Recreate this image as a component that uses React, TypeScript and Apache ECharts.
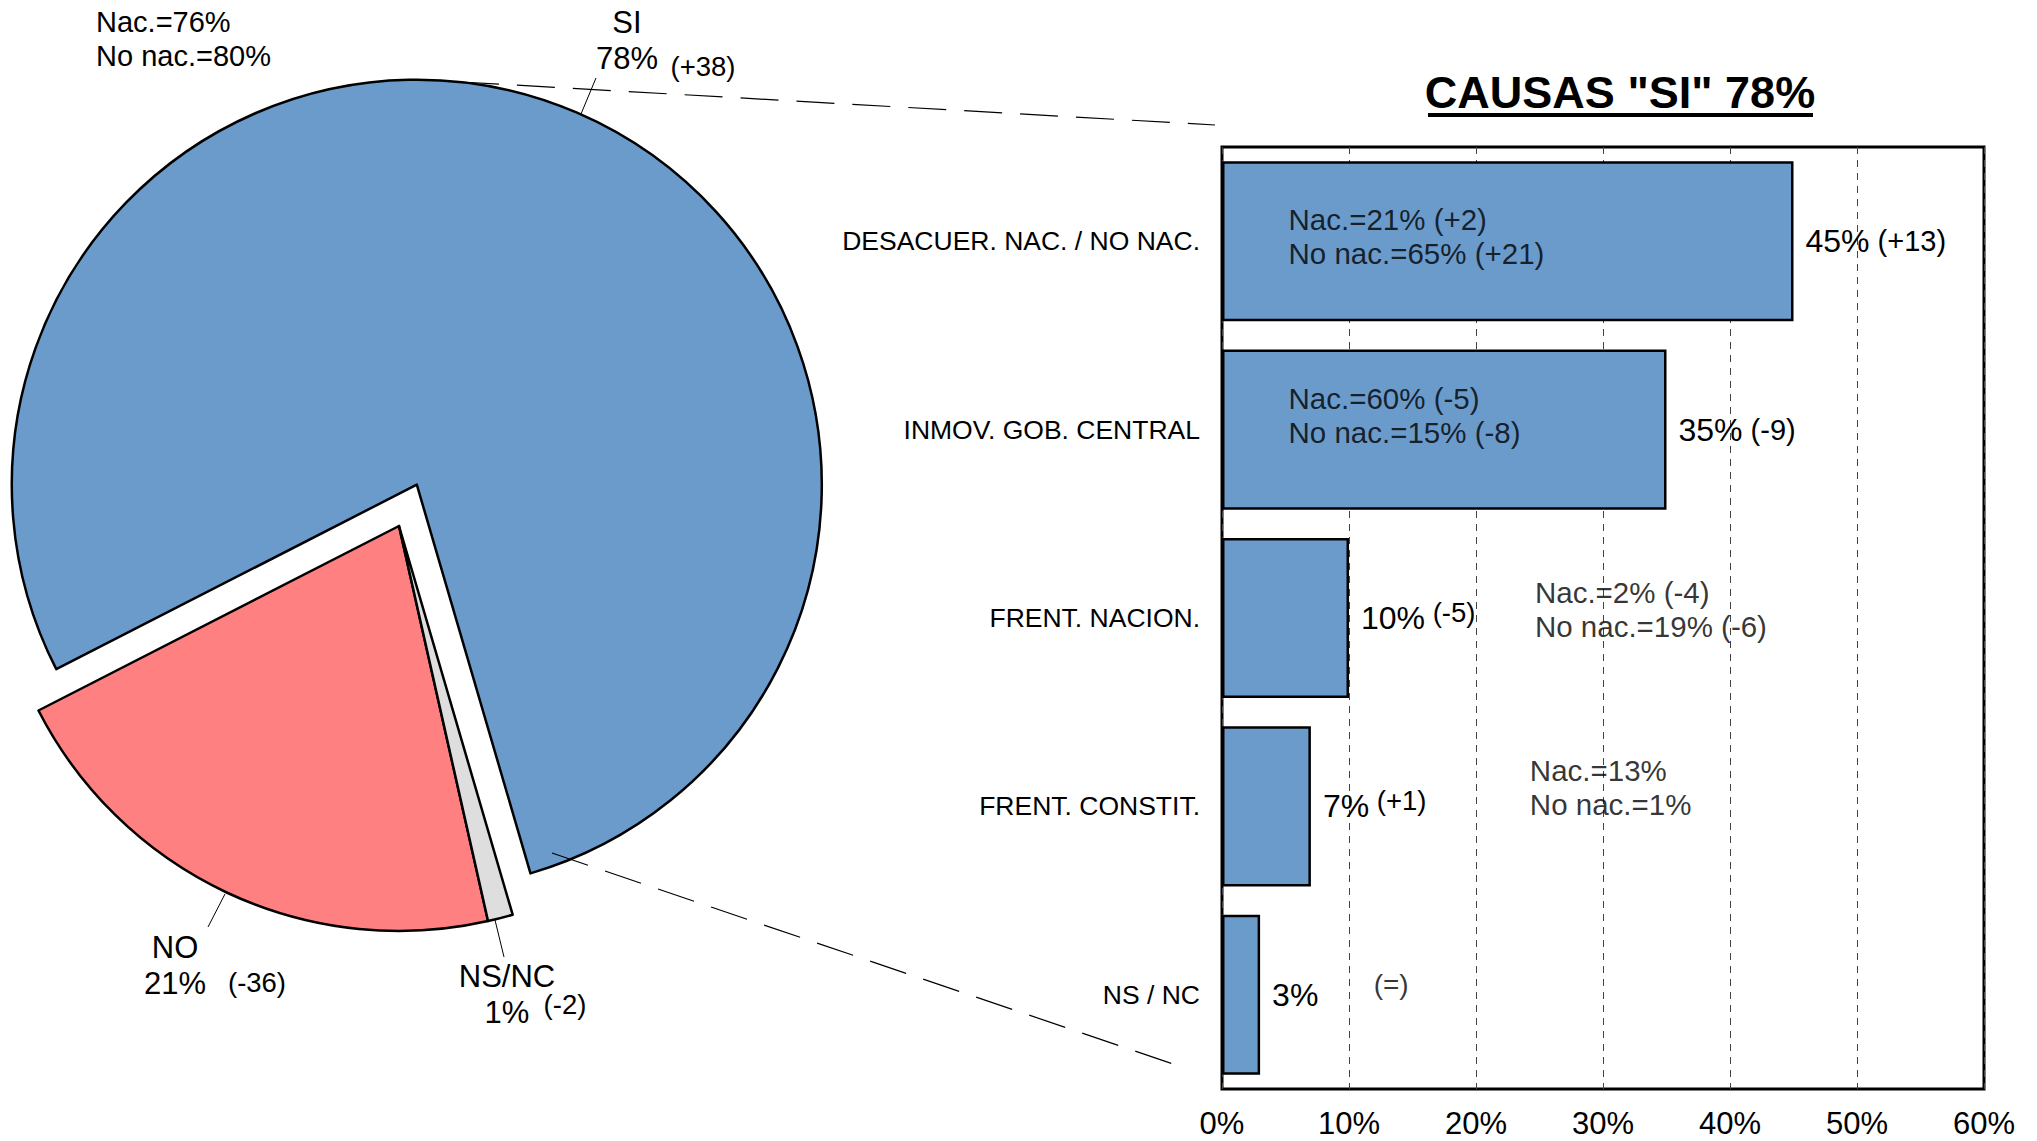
import React, { useEffect, useRef } from 'react';
import * as echarts from 'echarts';

// ---------- DATA ----------
const categories = [
  'DESACUER. NAC. / NO NAC.',
  'INMOV. GOB. CENTRAL',
  'FRENT. NACION.',
  'FRENT. CONSTIT.',
  'NS / NC',
];
const causeValues = [45, 35, 10, 7, 3];
const causeChanges = ['(+13)', '(-9)', '(-5)', '(+1)', '(=)'];
const nacValues = [21, 60, 2, 13];
const nacChanges = ['(+2)', '(-5)', '(-4)', ''];
const noNacValues = [65, 15, 19, 1];
const noNacChanges = ['(+21)', '(-8)', '(-6)', ''];
const xTicks = [0, 10, 20, 30, 40, 50, 60];

const pieNames = ['SI', 'NO', 'NS/NC'];
const pieValues = [78, 21, 1];
const pieChanges = ['(+38)', '(-36)', '(-2)'];
const siNac = 76;
const siNoNac = 80;

const titleText = 'CAUSAS "SI" 78%';

// ---------- STYLE / LAYOUT ----------
const FONT = '"Liberation Sans", Arial, Helvetica, sans-serif';
const BLUE = '#6a9bcb';
const pieColors = [BLUE, '#ff8080', '#dedede'];
// how each bar's change label is set: inline, raised, or separate
const changeMode = ['c', 'c', 'r1', 'r2', 'sep'];
// annotation text anchors (in data space of the bar chart) and pixel offsets
const annotAnchors = [
  { x: 5.2, dy: -5 },
  { x: 5.2, dy: -14 },
  { x: 24.6, dy: -9 },
  { x: 24.2, dy: -19 },
];
const sepChangeAnchor = { x: 11.9, dy: -10 };

const pieLabelPos = [
  { name: [627, 22], pct: [627, 58], chg: [703, 66], line: [581, 114, 596, 78] },
  { name: [175, 947], pct: [175, 983], chg: [257, 982], line: [225, 894, 208, 927] },
  { name: [507, 976], pct: [507, 1012], chg: [565, 1004], line: [495, 920, 504, 957] },
];

function buildOption(): any {
  const txt = (x: number, y: number, text: string, size: number, align = 'center', extra: any = {}) => ({
    type: 'text',
    x,
    y,
    z: 100,
    silent: true,
    style: {
      text,
      fill: '#000',
      font: `${extra.bold ? 'bold ' : ''}${size}px ${FONT}`,
      align,
      verticalAlign: 'middle',
    },
  });
  const line = (x1: number, y1: number, x2: number, y2: number, dash?: number[], w = 1) => ({
    type: 'line',
    z: 100,
    silent: true,
    shape: { x1, y1, x2, y2 },
    style: { stroke: '#000', lineWidth: w, lineDash: dash },
  });

  const graphics: any[] = [];
  // title
  graphics.push(txt(1620, 92, titleText, 45, 'center', { bold: true }));
  graphics.push({
    type: 'rect',
    z: 100,
    silent: true,
    shape: { x: 1428, y: 113, width: 385, height: 4 },
    style: { fill: '#000' },
  });
  // SI breakdown
  graphics.push(txt(96, 22, `Nac.=${siNac}%`, 29, 'left'));
  graphics.push(txt(96, 56, `No nac.=${siNoNac}%`, 29, 'left'));
  // pie labels
  pieNames.forEach((n, i) => {
    const p = pieLabelPos[i];
    graphics.push(txt(p.name[0], p.name[1], n, 31));
    graphics.push(txt(p.pct[0], p.pct[1], `${pieValues[i]}%`, 31));
    graphics.push(txt(p.chg[0], p.chg[1], pieChanges[i], 27.5));
    graphics.push(line(p.line[0], p.line[1], p.line[2], p.line[3], undefined, 1));
  });
  // connector dashed lines
  graphics.push(line(461, 82, 1215, 125, [38, 18], 1.2));
  graphics.push(line(552, 853, 1176, 1065, [38, 18], 1.2));

  const barData = causeValues.map((v, i) => ({
    value: v,
    label: {
      formatter: () => {
        const m = changeMode[i];
        if (m === 'sep') return `{v|${v}%}`;
        if (m === 'c') return `{v|${v}%}{c| ${causeChanges[i]}}`;
        if (m === 'r1') return `{v|${v}%}{r1| ${causeChanges[i]}}`;
        return `{v|${v}%}{r2| ${causeChanges[i]}}`;
      },
    },
  }));

  const annotData: any[] = nacValues.map((nv, i) => {
    const l1 = `Nac.=${nv}%${nacChanges[i] ? ' ' + nacChanges[i] : ''}`;
    const l2 = `No nac.=${noNacValues[i]}%${noNacChanges[i] ? ' ' + noNacChanges[i] : ''}`;
    return {
      value: [annotAnchors[i].x, i],
      label: { formatter: `${l1}\n${l2}`, offset: [0, annotAnchors[i].dy] },
    };
  });
  annotData.push({
    value: [sepChangeAnchor.x, 4],
    label: { formatter: causeChanges[4], fontSize: 28, offset: [0, sepChangeAnchor.dy] },
  });

  return {
    animation: false,
    backgroundColor: '#fff',
    textStyle: { fontFamily: FONT, color: '#000' },
    grid: {
      left: 1222,
      top: 147,
      width: 762,
      height: 942,
      show: true,
      borderColor: '#000',
      borderWidth: 3,
      backgroundColor: 'transparent',
      containLabel: false,
    },
    xAxis: {
      type: 'value',
      min: xTicks[0],
      max: xTicks[xTicks.length - 1],
      interval: xTicks[1] - xTicks[0],
      axisLine: { show: false },
      axisTick: { show: false },
      axisLabel: {
        fontSize: 31,
        lineHeight: 32,
        color: '#000',
        margin: 18,
        formatter: '{value}%',
        fontFamily: FONT,
      },
      splitLine: { show: true, lineStyle: { color: '#444', width: 1, type: [7, 6] } },
    },
    yAxis: {
      type: 'category',
      data: categories,
      inverse: true,
      axisLine: { show: false },
      axisTick: { show: false },
      axisLabel: { fontSize: 26.5, color: '#000', margin: 22, fontFamily: FONT },
      splitLine: { show: false },
    },
    series: [
      {
        type: 'bar',
        data: barData,
        barCategoryGap: '15%',
        silent: true,
        itemStyle: { color: BLUE, borderColor: '#000', borderWidth: 2.5 },
        label: {
          show: true,
          position: 'right',
          distance: 12,
          color: '#000',
          rich: {
            v: { fontSize: 32, lineHeight: 40, fontFamily: FONT, color: '#000' },
            c: { fontSize: 29, lineHeight: 40, fontFamily: FONT, color: '#000' },
            r1: { fontSize: 27.5, lineHeight: 22, verticalAlign: 'top', fontFamily: FONT, color: '#000' },
            r2: { fontSize: 27.5, lineHeight: 16, verticalAlign: 'top', fontFamily: FONT, color: '#000' },
          },
        },
        z: 3,
      },
      {
        type: 'scatter',
        data: annotData,
        symbolSize: 1,
        silent: true,
        itemStyle: { color: 'rgba(0,0,0,0)' },
        label: {
          show: true,
          position: 'right',
          distance: 0,
          fontSize: 29.5,
          lineHeight: 34,
          color: '#000',
          align: 'left',
          fontFamily: FONT,
        },
        z: 5,
      },
      {
        type: 'pie',
        center: [399, 526],
        radius: 405,
        startAngle: 286.3,
        clockwise: false,
        selectedMode: 'single',
        selectedOffset: 45,
        silent: true,
        label: { show: false },
        labelLine: { show: false },
        itemStyle: { borderColor: '#000', borderWidth: 2.5 },
        select: { itemStyle: { borderColor: '#000', borderWidth: 2.5 } },
        emphasis: { disabled: true },
        data: pieNames.map((n, i) => ({
          name: n,
          value: pieValues[i],
          selected: i === 0,
          itemStyle: { color: pieColors[i] },
        })),
      },
    ],
    graphic: graphics,
  };
}

export default function App() {
  const ref = useRef<HTMLDivElement>(null);
  useEffect(() => {
    document.body.style.margin = '0';
    const chart = echarts.init(ref.current as HTMLDivElement, null, { renderer: 'svg' });
    chart.setOption(buildOption());
    return () => chart.dispose();
  }, []);
  return <div ref={ref} style={{ width: 2037, height: 1141 }} />;
}
